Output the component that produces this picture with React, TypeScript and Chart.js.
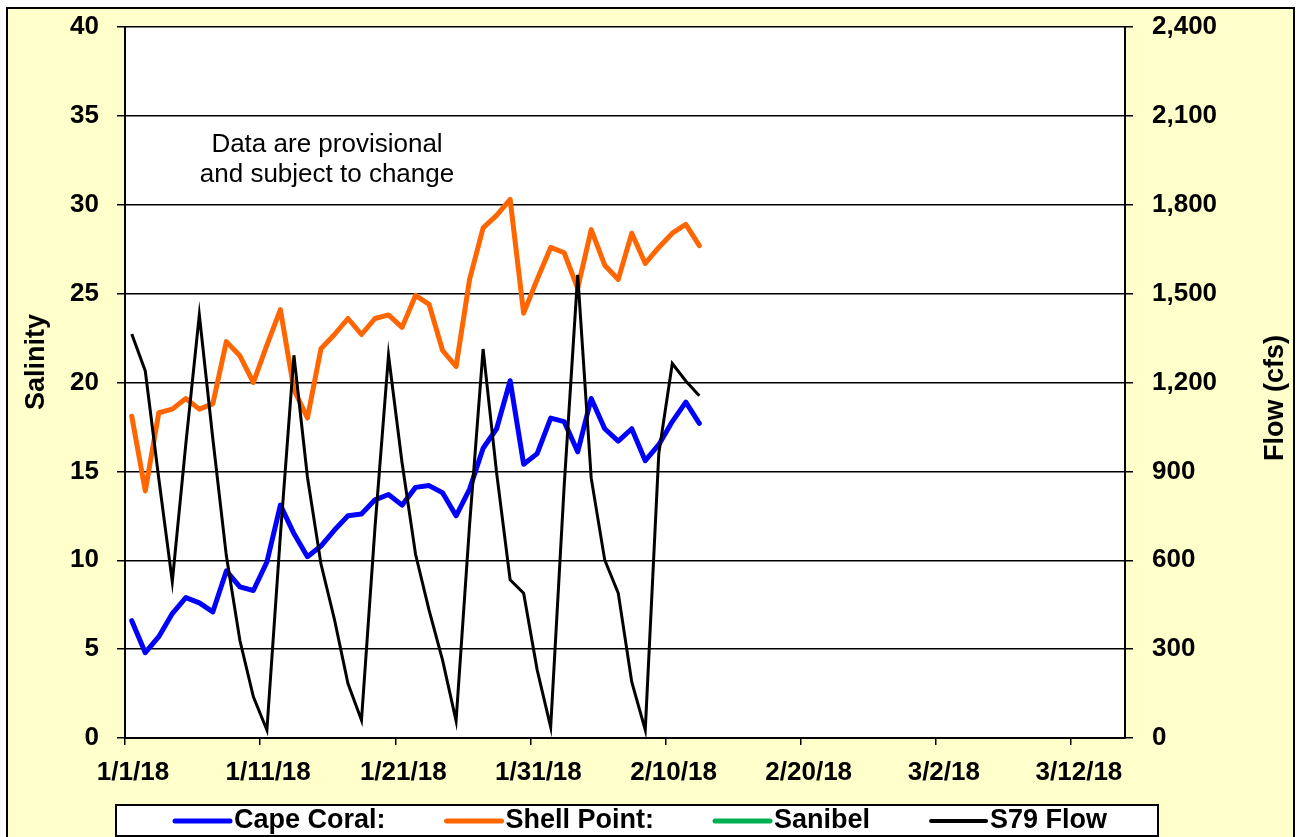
import React, { useEffect, useRef } from 'react';
import { Chart, registerables } from 'chart.js';

Chart.register(...registerables);

// X axis: days since 1/1/18 (points sit mid-day)
const xTickLabels = ['1/1/18', '1/11/18', '1/21/18', '1/31/18', '2/10/18', '2/20/18', '3/2/18', '3/12/18'];
const xTickStep = 10;
const xMaxDay = 74;

const salinityTicks = [0, 5, 10, 15, 20, 25, 30, 35, 40];
const flowTicks = [0, 300, 600, 900, 1200, 1500, 1800, 2100, 2400];

const seriesLabels = ['Cape Coral:', 'Shell Point:', 'Sanibel', 'S79 Flow'];

const capeCoral = [6.6, 4.8, 5.7, 7.0, 7.9, 7.6, 7.1, 9.4, 8.5, 8.3, 9.9, 13.1, 11.5, 10.2, 10.8, 11.7, 12.5, 12.6, 13.4, 13.7, 13.1, 14.1, 14.2, 13.8, 12.5, 14.0, 16.3, 17.4, 20.1, 15.4, 16.0, 18.0, 17.8, 16.1, 19.1, 17.4, 16.7, 17.4, 15.6, 16.5, 17.8, 18.9, 17.7];

const shellPoint = [18.1, 13.9, 18.3, 18.5, 19.1, 18.5, 18.8, 22.3, 21.5, 20.0, 22.1, 24.1, 19.6, 18.0, 21.9, 22.7, 23.6, 22.7, 23.6, 23.8, 23.1, 24.9, 24.4, 21.8, 20.9, 25.8, 28.7, 29.4, 30.3, 23.9, 25.8, 27.6, 27.3, 25.3, 28.6, 26.6, 25.8, 28.4, 26.7, 27.6, 28.4, 28.9, 27.7];

const sanibel: number[] = [];

const s79Flow = [1364, 1239, 876, 528, 992, 1428, 1010, 615, 330, 139, 27, 685, 1292, 881, 588, 400, 184, 60, 711, 1292, 930, 620, 432, 263, 58, 720, 1313, 895, 534, 489, 230, 37, 852, 1563, 877, 601, 489, 189, 27, 960, 1264, 1205, 1155];

const FONT = '"Liberation Sans", Arial, Helvetica, sans-serif';

const toPoints = (arr: number[]) => arr.map((v, i) => ({ x: i + 0.5, y: v }));

const decorPlugin = {
  id: 'decor',
  beforeDraw(chart: any) {
    const { ctx, chartArea: a, width, height } = chart;
    ctx.save();
    ctx.fillStyle = '#ffffff';
    ctx.fillRect(0, 0, width, height);
    ctx.fillStyle = '#FFFFCC';
    ctx.fillRect(7, 8, 1287, 845);
    ctx.lineWidth = 2;
    ctx.strokeStyle = '#000000';
    ctx.strokeRect(7, 8, 1287, 845);
    ctx.fillStyle = '#ffffff';
    ctx.fillRect(a.left, a.top, a.right - a.left, a.bottom - a.top);
    ctx.restore();
  },
  afterDraw(chart: any) {
    const { ctx } = chart;
    ctx.save();
    ctx.fillStyle = '#000000';
    ctx.textAlign = 'center';
    ctx.textBaseline = 'middle';
    ctx.font = `26px ${FONT}`;
    ctx.fillText('Data are provisional', 327, 145);
    ctx.fillText('and subject to change', 327, 175);

    // axis titles
    ctx.font = `bold 27px ${FONT}`;
    ctx.save();
    ctx.translate(37, 362);
    ctx.rotate(-Math.PI / 2);
    ctx.fillText('Salinity', 0, 0);
    ctx.restore();
    ctx.save();
    ctx.translate(1276, 398);
    ctx.rotate(-Math.PI / 2);
    ctx.fillText('Flow (cfs)', 0, 0);
    ctx.restore();

    // legend frame + entries
    ctx.fillStyle = '#ffffff';
    ctx.fillRect(116, 805, 1042, 31);
    ctx.lineWidth = 2;
    ctx.strokeStyle = '#000000';
    ctx.strokeRect(116, 805, 1042, 31);
    ctx.font = `bold 27px ${FONT}`;
    ctx.textAlign = 'left';
    ctx.textBaseline = 'middle';
    let x = 175;
    const y = 821;
    chart.data.datasets.forEach((ds: any) => {
      ctx.beginPath();
      ctx.lineCap = 'round';
      ctx.lineWidth = ds.yAxisID === 'y1' ? 4 : 5;
      ctx.strokeStyle = ds.borderColor;
      ctx.moveTo(x, y);
      ctx.lineTo(x + 55, y);
      ctx.stroke();
      ctx.fillStyle = '#000000';
      ctx.fillText(ds.label, x + 59, y);
      x += 59 + ctx.measureText(ds.label).width + 61;
    });
    ctx.restore();
  },
};

export default function App() {
  const canvasRef = useRef<HTMLCanvasElement | null>(null);

  useEffect(() => {
    if (!canvasRef.current) return;
    const tickFont = { family: FONT, size: 26, weight: 'bold' as const };
    const chart = new Chart(canvasRef.current, {
      type: 'line',
      data: {
        datasets: [
          {
            label: seriesLabels[0],
            data: toPoints(capeCoral),
            borderColor: '#0000FF',
            backgroundColor: '#0000FF',
            borderWidth: 5,
            pointRadius: 0,
            yAxisID: 'y',
            order: 1,
            borderJoinStyle: 'round',
            borderCapStyle: 'round',
          },
          {
            label: seriesLabels[1],
            data: toPoints(shellPoint),
            borderColor: '#FF6600',
            backgroundColor: '#FF6600',
            borderWidth: 5,
            pointRadius: 0,
            yAxisID: 'y',
            order: 2,
            borderJoinStyle: 'round',
            borderCapStyle: 'round',
          },
          {
            label: seriesLabels[2],
            data: toPoints(sanibel),
            borderColor: '#00B050',
            backgroundColor: '#00B050',
            borderWidth: 5,
            pointRadius: 0,
            yAxisID: 'y',
            order: 3,
          },
          {
            label: seriesLabels[3],
            data: toPoints(s79Flow),
            borderColor: '#000000',
            backgroundColor: '#000000',
            borderWidth: 3,
            pointRadius: 0,
            yAxisID: 'y1',
            order: 0,
          },
        ],
      },
      options: {
        animation: false,
        responsive: true,
        maintainAspectRatio: false,
        layout: { padding: { top: 27, left: 0, right: 0, bottom: 0 } },
        plugins: {
          tooltip: { enabled: false },
          legend: { display: false },
        },
        scales: {
          x: {
            type: 'linear',
            min: 0,
            max: xMaxDay,
            afterBuildTicks: (s: any) => {
              s.ticks = xTickLabels.map((_, i) => ({ value: i * xTickStep }));
            },
            afterFit: (s: any) => {
              s.height = 99;
              s.paddingLeft = 0;
              s.paddingRight = 0;
            },
            ticks: {
              autoSkip: false,
              maxRotation: 0,
              padding: 12,
              labelOffset: 8,
              color: '#000000',
              font: tickFont,
              callback: (v: any) => xTickLabels[Math.round(Number(v) / xTickStep)] ?? '',
            },
            grid: { drawOnChartArea: false, tickLength: 7, color: '#000000', lineWidth: 1.5 },
            border: { color: '#000000', width: 2 },
          },
          y: {
            position: 'left',
            min: 0,
            max: 40,
            afterBuildTicks: (s: any) => {
              s.ticks = salinityTicks.map((v) => ({ value: v }));
            },
            afterFit: (s: any) => {
              s.width = 125;
              s.paddingTop = 0;
              s.paddingBottom = 0;
            },
            ticks: { padding: 18, color: '#000000', font: tickFont },
            grid: { color: '#000000', lineWidth: 1.5, tickLength: 8 },
            border: { color: '#000000', width: 2 },
          },
          y1: {
            position: 'right',
            min: 0,
            max: 2400,
            afterBuildTicks: (s: any) => {
              s.ticks = flowTicks.map((v) => ({ value: v }));
            },
            afterFit: (s: any) => {
              s.width = 172;
              s.paddingTop = 0;
              s.paddingBottom = 0;
            },
            ticks: {
              padding: 19,
              color: '#000000',
              font: tickFont,
              callback: (v: any) => Number(v).toLocaleString('en-US'),
            },
            grid: { drawOnChartArea: false, color: '#000000', lineWidth: 1.5, tickLength: 8 },
            border: { color: '#000000', width: 2 },
          },
        },
      },
      plugins: [decorPlugin],
    } as any);
    return () => chart.destroy();
  }, []);

  return (
    <div style={{ position: 'absolute', left: 0, top: 0, width: 1297, height: 837 }}>
      <canvas ref={canvasRef} />
    </div>
  );
}
